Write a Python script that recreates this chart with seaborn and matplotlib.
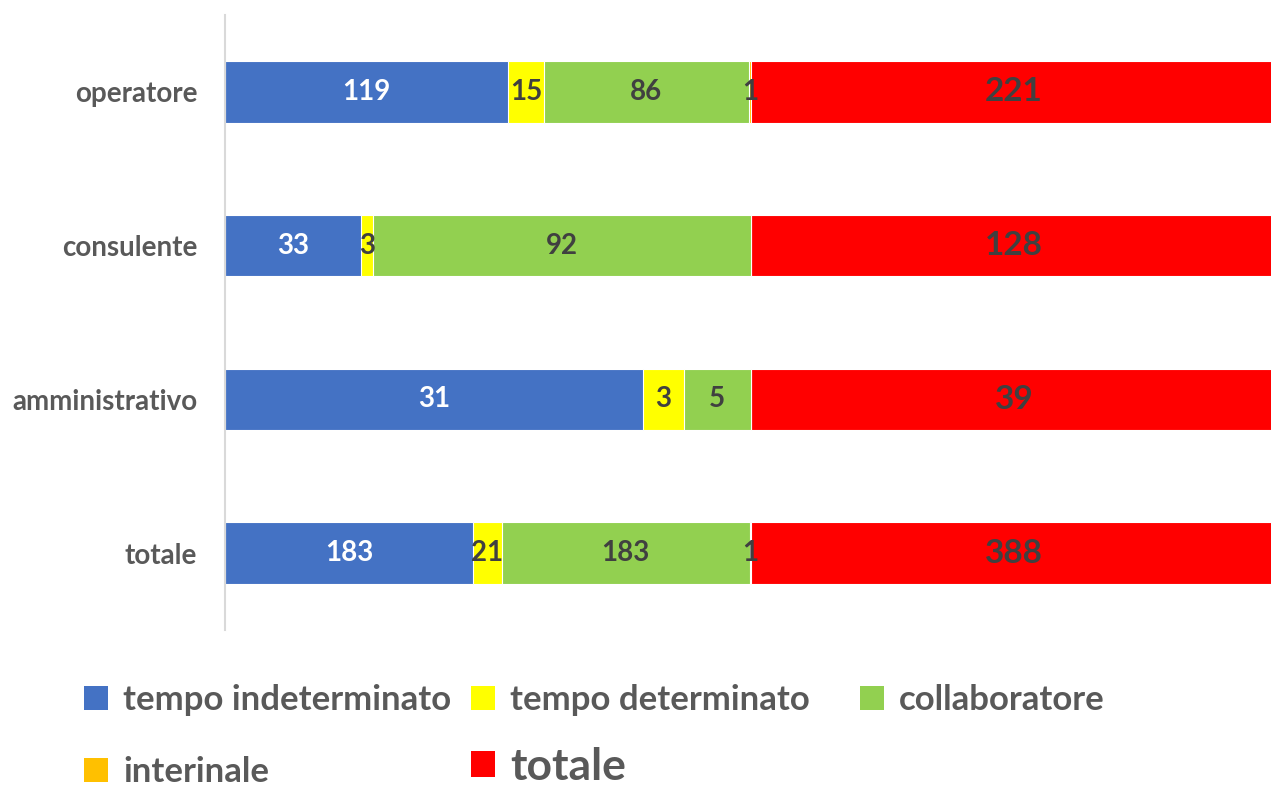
import matplotlib
matplotlib.use("Agg")
import matplotlib.pyplot as plt
from matplotlib.patches import Patch
import numpy as np
import pandas as pd
import seaborn as sns

categories = ["operatore", "consulente", "amministrativo", "totale"]
tempo_indeterminato = [119, 33, 31, 183]
tempo_determinato = [15, 3, 3, 21]
collaboratore = [86, 92, 5, 183]
interinale = [1, 0, 0, 1]
totale = [221, 128, 39, 388]

series_names = ["tempo indeterminato", "tempo determinato", "collaboratore",
                "interinale", "totale"]
series_values = [tempo_indeterminato, tempo_determinato, collaboratore,
                 interinale, totale]
colors = ["#4472C4", "#FFFF00", "#92D050", "#FFC000", "#FF0000"]

sns.set_theme(style="white")
plt.rcParams["font.family"] = ["Lato", "DejaVu Sans"]

# 100% stacked shares per category
vals = np.array(series_values, dtype=float)          # (series, category)
shares = vals / vals.sum(axis=0) * 100
ends = np.cumsum(shares, axis=0)
starts = ends - shares

fig = plt.figure(figsize=(12.71, 7.87), dpi=100)
ax = fig.add_axes([0.177, 0.1995, 0.8277, 0.7815])

# draw the longest cumulative bar first so the earlier segments sit on top
for i in reversed(range(len(series_names))):
    df = pd.DataFrame({"cat": categories, "end": ends[i]})
    sns.barplot(data=df, x="end", y="cat", order=categories, color=colors[i],
                saturation=1, width=0.4, edgecolor="white", linewidth=0.8,
                ax=ax)

for i, name in enumerate(series_names):
    for j, cat in enumerate(categories):
        v = vals[i, j]
        if v == 0:
            continue
        xc = starts[i, j] + shares[i, j] / 2
        if name == "totale":
            ax.text(xc, j, f"{int(v)}", ha="center", va="center",
                    fontsize=24, fontweight="bold", color="#404040")
        else:
            tc = "white" if i == 0 else "#404040"
            ax.text(xc, j, f"{int(v)}", ha="center", va="center",
                    fontsize=20, fontweight="bold", color=tc)

ax.set_xlim(0, 100)
ax.set_ylim(3.5, -0.5)
ax.set_xlabel("")
ax.set_ylabel("")
ax.set_xticks([])
ax.tick_params(axis="y", length=0, pad=20)
for lab in ax.get_yticklabels():
    lab.set_fontsize(20)
    lab.set_fontweight("bold")
    lab.set_color("#595959")
for side in ["top", "right", "bottom"]:
    ax.spines[side].set_visible(False)
ax.spines["left"].set_color("#D9D9D9")
ax.spines["left"].set_linewidth(1.5)

# legend entries laid out on a 3-column grid
legend_pos = [(0.0661, 0.1105), (0.3706, 0.1105), (0.6766, 0.1105),
              (0.0661, 0.0190), (0.3706, 0.0260)]
square_px = 24
gap_px = 15
for i, name in enumerate(series_names):
    size = 32 if name == "totale" else 25
    px_per_unit = size * 100 / 72
    leg = fig.legend(handles=[Patch(facecolor=colors[i], edgecolor="none")],
                     labels=[name], loc="center left",
                     bbox_to_anchor=legend_pos[i], frameon=False,
                     handlelength=square_px / px_per_unit,
                     handleheight=square_px / px_per_unit,
                     handletextpad=gap_px / px_per_unit,
                     borderaxespad=0, borderpad=0,
                     prop={"size": size, "weight": "bold"})
    for t in leg.get_texts():
        t.set_color("#595959")

fig.savefig("out.png", dpi=100)
